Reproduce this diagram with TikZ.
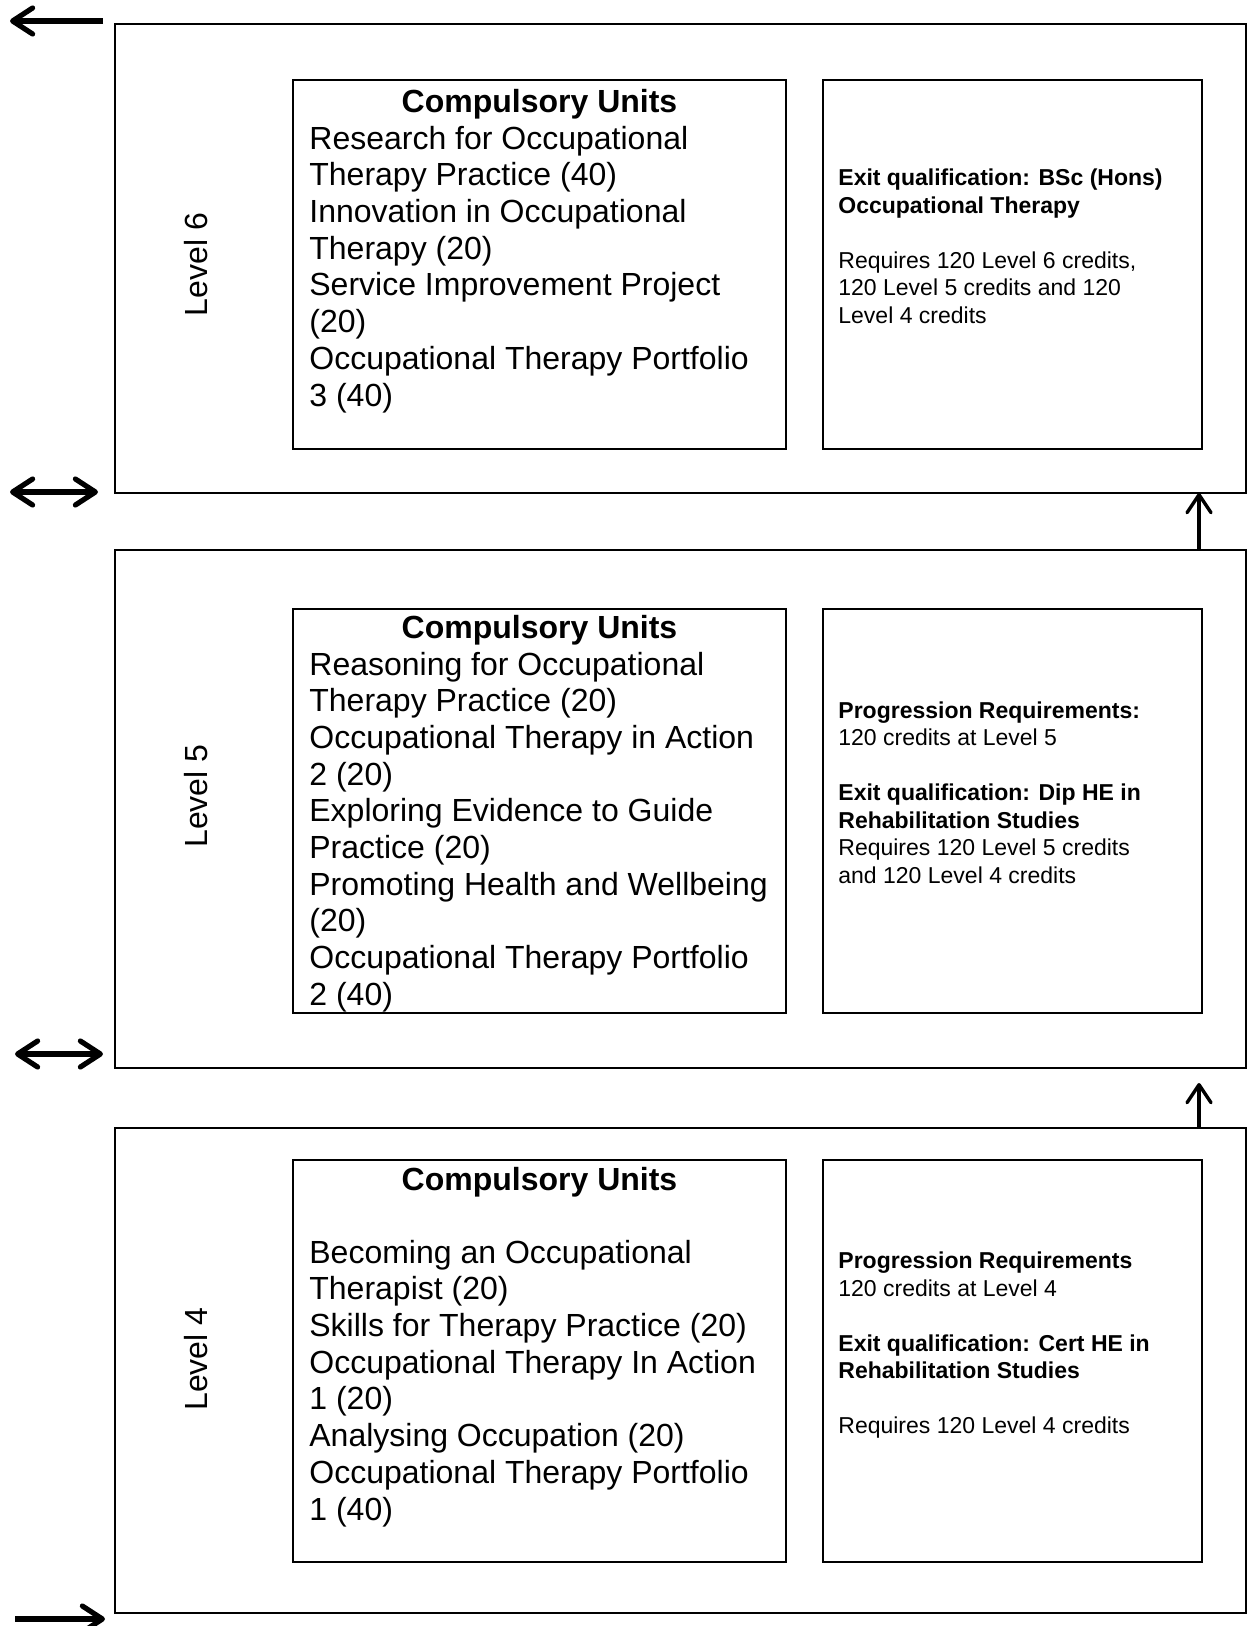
\documentclass[tikz,border=0pt]{standalone}
\usepackage{fontspec}
\setmainfont{Liberation Sans}
\usetikzlibrary{arrows.meta,fit}
\begin{document}
\begin{tikzpicture}[x=0.5pt,y=-0.5pt,
  outerbox/.style={draw, line width=0.8pt, inner sep=0pt, outer sep=0pt},
  innerbox/.style={draw, line width=1pt, inner sep=0pt, outer sep=0pt},
  listtxt/.style={font=\fontsize{16pt}{18.35pt}\selectfont, inner sep=0pt, align=left, anchor=base west},
  titletxt/.style={font=\fontsize{16pt}{18.35pt}\selectfont\bfseries, inner sep=0pt, anchor=base},
  smalltxt/.style={font=\fontsize{11.5pt}{13.75pt}\selectfont, inner sep=0pt, align=left, anchor=base west},
  lvl/.style={font=\fontsize{16pt}{18.35pt}\selectfont, inner sep=0pt, rotate=90, anchor=base},
  htip/.tip={Straight Barb[length=10pt,width=13pt,round]},
  vtip/.tip={Straight Barb[length=9pt,width=12pt,round]},
  harrow/.style={line width=2.6pt, -htip},
  hdarrow/.style={line width=2.6pt, htip-htip},
  varrow/.style={line width=1.7pt, -vtip}
]
\useasboundingbox (0,0) rectangle (1248,1626);

% outer level boxes
\node[outerbox, fit={(115,24) (1246,493)}] (l6) {};
\node[outerbox, fit={(115,550) (1246,1068)}] (l5) {};
\node[outerbox, fit={(115,1128) (1246,1613)}] (l4) {};

% inner boxes
\node[innerbox, fit={(293,80) (786,449)}] (u6) {};
\node[innerbox, fit={(823,80) (1202,449)}] (q6) {};
\node[innerbox, fit={(293,609) (786,1013)}] (u5) {};
\node[innerbox, fit={(823,609) (1202,1013)}] (q5) {};
\node[innerbox, fit={(293,1160) (786,1562)}] (u4) {};
\node[innerbox, fit={(823,1160) (1202,1562)}] (q4) {};

% level labels
\node[lvl] (t6) at (207,264.5) {Level 6};
\node[lvl] (t5) at (207,796) {Level 5};
\node[lvl] (t4) at (207,1359) {Level 4};

% Level 6 contents (multi-line nodes anchored at their last baseline)
\node[titletxt] (h6) at (539.5,113) {Compulsory Units};
\node[listtxt] (s6) at (309,406) {Research for Occupational\\
Therapy Practice (40)\\
Innovation in Occupational\\
Therapy (20)\\
Service Improvement Project\\
(20)\\
Occupational Therapy Portfolio\\
3 (40)};
\node[smalltxt] (e6) at (838,323.5) {{\bfseries Exit qualification: BSc (Hons)}\\
{\bfseries Occupational Therapy}\\[13.75pt]
Requires 120 Level 6 credits,\\
120 Level 5 credits and 120\\
Level 4 credits};

% Level 5 contents
\node[titletxt] (h5) at (539.5,638) {Compulsory Units};
\node[listtxt] (s5) at (309,1005.3) {Reasoning for Occupational\\
Therapy Practice (20)\\
Occupational Therapy in Action\\
2 (20)\\
Exploring Evidence to Guide\\
Practice (20)\\
Promoting Health and Wellbeing\\
(20)\\
Occupational Therapy Portfolio\\
2 (40)};
\node[smalltxt] (e5) at (838,883) {{\bfseries Progression Requirements:}\\
120 credits at Level 5\\[13.75pt]
{\bfseries Exit qualification: Dip HE in}\\
{\bfseries Rehabilitation Studies}\\
Requires 120 Level 5 credits\\
and 120 Level 4 credits};

% Level 4 contents
\node[titletxt] (h4) at (539.5,1190) {Compulsory Units};
\node[listtxt] (s4) at (309,1520) {Becoming an Occupational\\
Therapist (20)\\
Skills for Therapy Practice (20)\\
Occupational Therapy In Action\\
1 (20)\\
Analysing Occupation (20)\\
Occupational Therapy Portfolio\\
1 (40)};
\node[smalltxt] (e4) at (838,1433.5) {{\bfseries Progression Requirements}\\
120 credits at Level 4\\[13.75pt]
{\bfseries Exit qualification: Cert HE in}\\
{\bfseries Rehabilitation Studies}\\[13.75pt]
Requires 120 Level 4 credits};

% arrow end points
\coordinate (a1s) at (103,21);
\coordinate (a1e) at (10,21);
\coordinate (a2s) at (10,492);
\coordinate (a2e) at (98,492);
\coordinate (a3s) at (15,1054);
\coordinate (a3e) at (103,1054);
\coordinate (a4s) at (15,1619);
\coordinate (a4e) at (105,1619);
\coordinate (vx) at (1199,0);
\coordinate (v2tip) at (1199,1083);

\draw[harrow] (a1s) -- (a1e);
\draw[hdarrow] (a2s) -- (a2e);
\draw[hdarrow] (a3s) -- (a3e);
\draw[harrow] (a4s) -- (a4e);
\draw[varrow] (l5.north -| vx) -- (l6.south -| vx);
\draw[varrow] (l4.north -| vx) -- (v2tip);
\end{tikzpicture}
\end{document}
